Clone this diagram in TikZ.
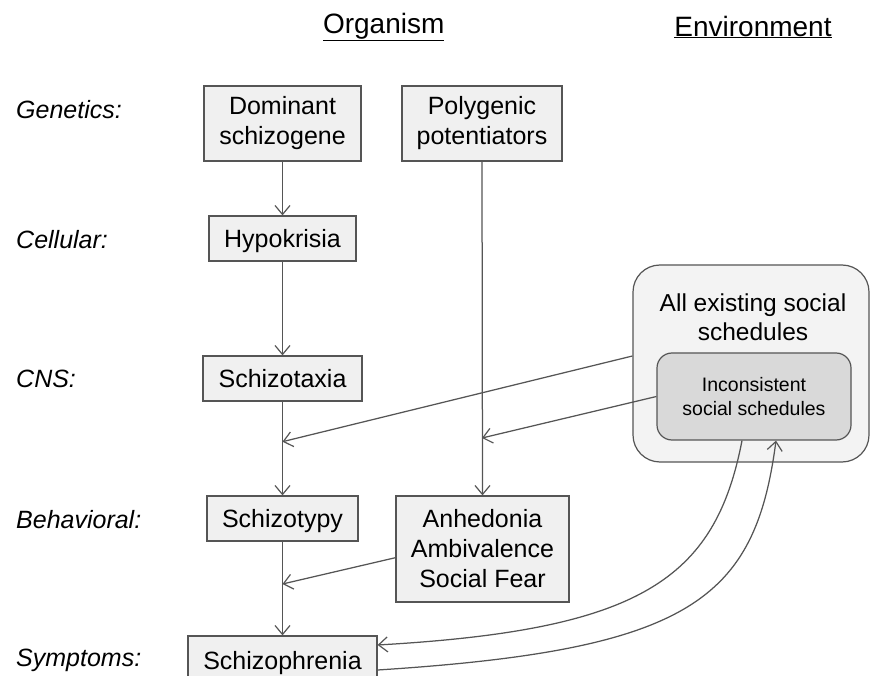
\documentclass[tikz,border=0pt]{standalone}
\usepackage{fontspec}
\setmainfont{Liberation Sans}
\usetikzlibrary{arrows.meta,calc}
\definecolor{linegray}{HTML}{555555}
\definecolor{boxfill}{HTML}{F0F0F0}
\definecolor{outerfill}{HTML}{F3F3F3}
\definecolor{innerfill}{HTML}{D9D9D9}
\tikzset{
  stagebox/.style={draw=linegray, line width=1.2pt, fill=boxfill, inner sep=0pt, align=center,
    font=\fontsize{25}{30}\selectfont},
  onelinebox/.style={stagebox, text depth=0pt},
  levellabel/.style={anchor=west, inner sep=0pt, font=\fontsize{25}{30}\selectfont\itshape},
  header/.style={inner sep=0pt, font=\fontsize{28}{32}\selectfont},
  conn/.style={draw=linegray, line width=1.25pt, -{Straight Barb[length=9pt,width=15pt,line width=1.2pt]}},
}
\begin{document}
\begin{tikzpicture}[x=1pt,y=-1pt]
\useasboundingbox (0,0) rectangle (871,676);
% headers
\node[header] (org) at (383.7,27) {\underline{Organism}};
\node[header] (env) at (753,27) {\underline{Environment}};
% level labels
\node[levellabel] (lgen) at (16,110) {Genetics:};
\node[levellabel] (lcel) at (16,240) {Cellular:};
\node[levellabel] (lcns) at (16,379) {CNS:};
\node[levellabel] (lbeh) at (16,520) {Behavioral:};
\node[levellabel] (lsym) at (16,660) {Symptoms:};
% organism boxes
\node[stagebox, minimum width=157pt, minimum height=75pt] (dom) at (282.5,123.5) {Dominant\\schizogene};
\node[stagebox, minimum width=160pt, minimum height=75pt] (poly) at (482,123.5) {Polygenic\\potentiators};
\node[onelinebox, minimum width=147pt, minimum height=45pt] (hypo) at (282.5,238.5) {Hypokrisia};
\node[onelinebox, minimum width=159pt, minimum height=45pt] (taxia) at (282.5,378.5) {Schizotaxia};
\node[onelinebox, minimum width=151pt, minimum height=45pt] (typy) at (282.5,518.5) {Schizotypy};
\node[stagebox, minimum width=173pt, minimum height=106pt] (anhe) at (482.5,549) {Anhedonia\\Ambivalence\\Social Fear};
\node[stagebox, minimum width=189pt, minimum height=45pt] (phren) at (282.5,658.5) {};
\node[inner sep=0pt, text depth=0pt, font=\fontsize{25}{30}\selectfont] (phrentext) at (282.5,660) {Schizophrenia};
% environment boxes
\node[draw=linegray, line width=1.2pt, fill=outerfill, rounded corners=27pt,
      minimum width=236pt, minimum height=197pt, inner sep=0pt] (outer) at (751,363.5) {};
\node[inner sep=0pt, align=center, font=\fontsize{24.5}{29}\selectfont] (outertext) at (753,317) {All existing social\\schedules};
\node[draw=linegray, line width=1.2pt, fill=innerfill, rounded corners=15pt,
      minimum width=194pt, minimum height=87pt, inner sep=0pt, align=center,
      font=\fontsize{19.5}{23.5}\selectfont] (inner) at (754,396.5) {Inconsistent\\social schedules};
% junction coordinates
\coordinate (jtaxia) at (282.5,441.7);
\coordinate (jpoly) at (482,438);
\coordinate (jtypy) at (282.5,584);
% vertical chains
\draw[conn] (dom.south) -- (hypo.north);
\draw[conn] (hypo.south) -- (taxia.north);
\draw[conn] (taxia.south) -- (typy.north);
\draw[conn] (poly.south) -- (anhe.north);
\draw[conn] (typy.south) -- (phren.north);
% converging arrows
\draw[conn] ([yshift=7.5pt]outer.west) -- (jtaxia);
\draw[conn] (inner.west) -- (jpoly);
\draw[conn] ([yshift=-8.7pt]anhe.west) -- (jtypy);
% feedback curves
\draw[conn] ([xshift=-12pt]inner.south) .. controls (715,580) and (640,630) .. ([yshift=13.5pt]phren.east);
\draw[conn] ([yshift=-11.5pt]phren.east) .. controls (690,650) and (755,600) .. ([xshift=22pt]inner.south);
\end{tikzpicture}
\end{document}
